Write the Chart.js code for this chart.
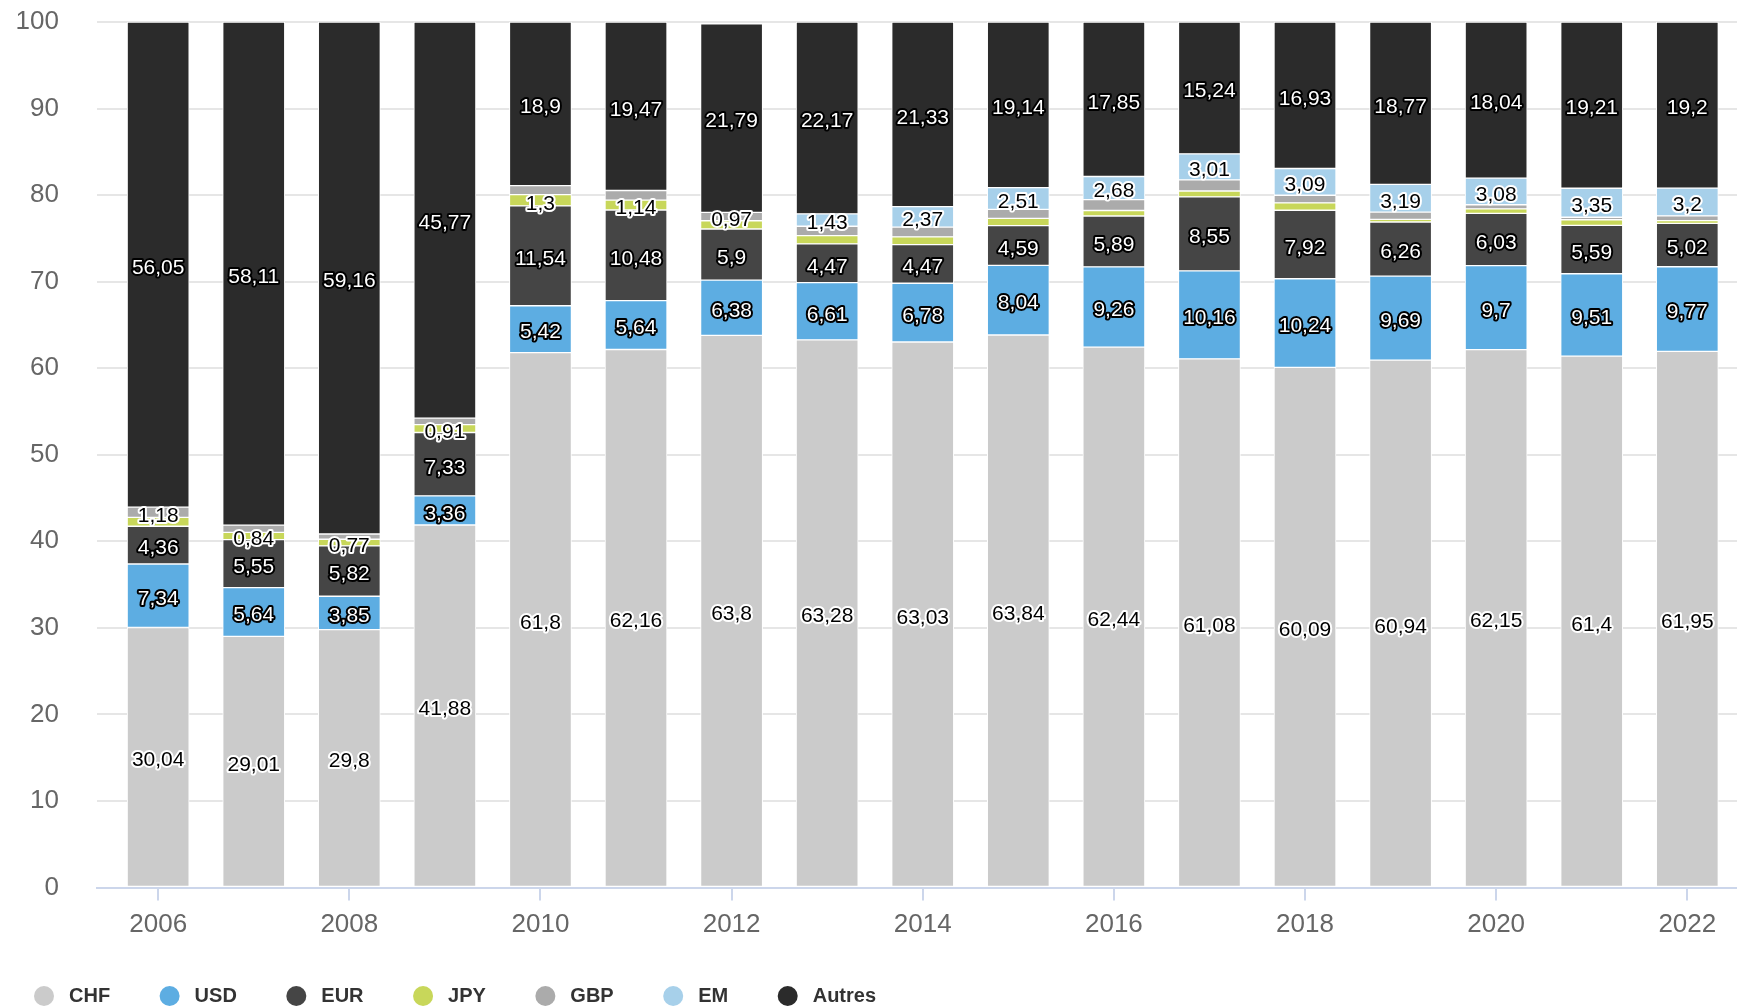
<!DOCTYPE html>
<html>
<head>
<meta charset="utf-8">
<script src="https://cdn.jsdelivr.net/npm/chart.js@4"></script>
<style>
html,body{margin:0;padding:0;background:#ffffff;}
#wrap{width:1737px;height:1007px;position:relative;}
</style>
</head>
<body>
<div id="wrap"><canvas id="c" width="1737" height="1007"></canvas></div>
<script>
// ---------- data ----------
const years  = [2006,2007,2008,2009,2010,2011,2012,2013,2014,2015,2016,2017,2018,2019,2020,2021,2022];
const CHF    = [30.04,29.01,29.8,41.88,61.8,62.16,63.8,63.28,63.03,63.84,62.44,61.08,60.09,60.94,62.15,61.4,61.95];
const USD    = [7.34,5.64,3.85,3.36,5.42,5.64,6.38,6.61,6.78,8.04,9.26,10.16,10.24,9.69,9.7,9.51,9.77];
const EUR    = [4.36,5.55,5.82,7.33,11.54,10.48,5.9,4.47,4.47,4.59,5.89,8.55,7.92,6.26,6.03,5.59,5.02];
const JPY    = [1.03,0.84,0.77,0.91,1.3,1.14,0.96,0.95,0.9,0.85,0.63,0.68,0.86,0.3,0.52,0.65,0.31];
const GBP    = [1.18,0.83,0.6,0.75,1.04,1.11,0.97,1.09,1.12,1.03,1.25,1.28,0.87,0.85,0.48,0.29,0.55];
const EM     = [null,null,null,null,null,null,null,1.43,2.37,2.51,2.68,3.01,3.09,3.19,3.08,3.35,3.2];
const Autres = [56.05,58.11,59.16,45.77,18.9,19.47,21.79,22.17,21.33,19.14,17.85,15.24,16.93,18.77,18.04,19.21,19.2];

const seriesNames  = ['CHF','USD','EUR','JPY','GBP','EM','Autres'];
const seriesValues = [CHF, USD, EUR, JPY, GBP, EM, Autres];
const yTickStep = 10;
const xTickYears = years.filter(y => y % 2 === 0);

// ---------- styles ----------
const seriesColors = ['#cbcbcb','#5dade2','#454545','#c8d75a','#ababab','#a7d0ea','#2b2b2b'];
const minorSeries = ['JPY','GBP','EM'];
const whiteTextSeries = ['USD','EUR','Autres'];
const FONT = '"Liberation Sans", Arial, Helvetica, sans-serif';

const segLabels = {
  id: 'segLabels',
  afterDatasetsDraw(chart) {
    const ctx = chart.ctx;
    ctx.save();
    ctx.font = '21px ' + FONT;
    ctx.textAlign = 'center';
    ctx.textBaseline = 'middle';
    ctx.lineJoin = 'round';
    ctx.lineWidth = 4;
    seriesNames.forEach((name, i) => {
      const meta = chart.getDatasetMeta(i);
      meta.data.forEach((el, j) => {
        const v = seriesValues[i][j];
        if (v == null || v <= 0) return;
        if (minorSeries.includes(name)) {
          const maxMinor = Math.max(...minorSeries.map(n => seriesValues[seriesNames.indexOf(n)][j] || 0));
          if (v < maxMinor) return;
        }
        const txt = String(v).replace('.', ',');
        const cx = el.x;
        const cy = (el.y + el.base) / 2 + 3.5;
        const inv = whiteTextSeries.includes(name);
        ctx.strokeStyle = inv ? '#000000' : '#ffffff';
        ctx.fillStyle = inv ? '#ffffff' : '#000000';
        ctx.strokeText(txt, cx, cy);
        ctx.fillText(txt, cx, cy);
      });
    });
    ctx.restore();
  }
};

const bottomLegend = {
  id: 'bottomLegend',
  afterDraw(chart) {
    const ctx = chart.ctx;
    ctx.save();
    ctx.font = 'bold 20px ' + FONT;
    ctx.textBaseline = 'middle';
    ctx.textAlign = 'left';
    let x = 34;
    const y = 996;
    seriesNames.forEach((n, i) => {
      ctx.fillStyle = seriesColors[i];
      ctx.beginPath();
      ctx.arc(x + 10, y, 10, 0, Math.PI * 2);
      ctx.fill();
      ctx.fillStyle = '#333333';
      ctx.fillText(n, x + 35, y);
      x += 35 + ctx.measureText(n).width + 49.5;
    });
    ctx.restore();
  }
};

const ctx = document.getElementById('c').getContext('2d');
new Chart(ctx, {
  type: 'bar',
  data: {
    datasets: seriesNames.map((name, i) => ({
      label: name,
      data: years.map((yr, j) => ({ x: yr, y: seriesValues[i][j] })),
      backgroundColor: seriesColors[i],
      borderColor: '#ffffff',
      borderWidth: 1,
      borderSkipped: false,
      barThickness: 62
    }))
  },
  options: {
    responsive: false,
    animation: false,
    devicePixelRatio: 1,
    layout: { padding: { left: 0, right: 0, top: 22, bottom: 40 } },
    plugins: {
      legend: { display: false },
      tooltip: { enabled: false },
      title: { display: false }
    },
    scales: {
      x: {
        type: 'linear',
        stacked: true,
        offset: false,
        min: 2005.36,
        max: 2022.52,
        afterBuildTicks: s => { s.ticks = xTickYears.map(v => ({ value: v })); },
        afterFit: s => { s.height = 79.5; },
        grid: { offset: false, drawOnChartArea: false, drawTicks: true, tickLength: 13, color: '#ccd6eb', tickColor: '#ccd6eb', lineWidth: 2 },
        border: { display: true, color: '#ccd6eb', width: 2 },
        ticks: { color: '#666666', font: { family: FONT, size: 26 }, padding: 9, maxRotation: 0, autoSkip: false, callback: v => String(v) }
      },
      y: {
        stacked: true,
        min: 0,
        max: 100,
        afterFit: s => { s.width = 97; },
        grid: { color: '#e6e6e6', lineWidth: 2, drawTicks: true, tickLength: 35, tickColor: 'rgba(0,0,0,0)' },
        border: { display: false },
        ticks: { stepSize: yTickStep, color: '#666666', font: { family: FONT, size: 26 }, padding: 3 }
      }
    }
  },
  plugins: [segLabels, bottomLegend]
});
</script>
</body>
</html>
